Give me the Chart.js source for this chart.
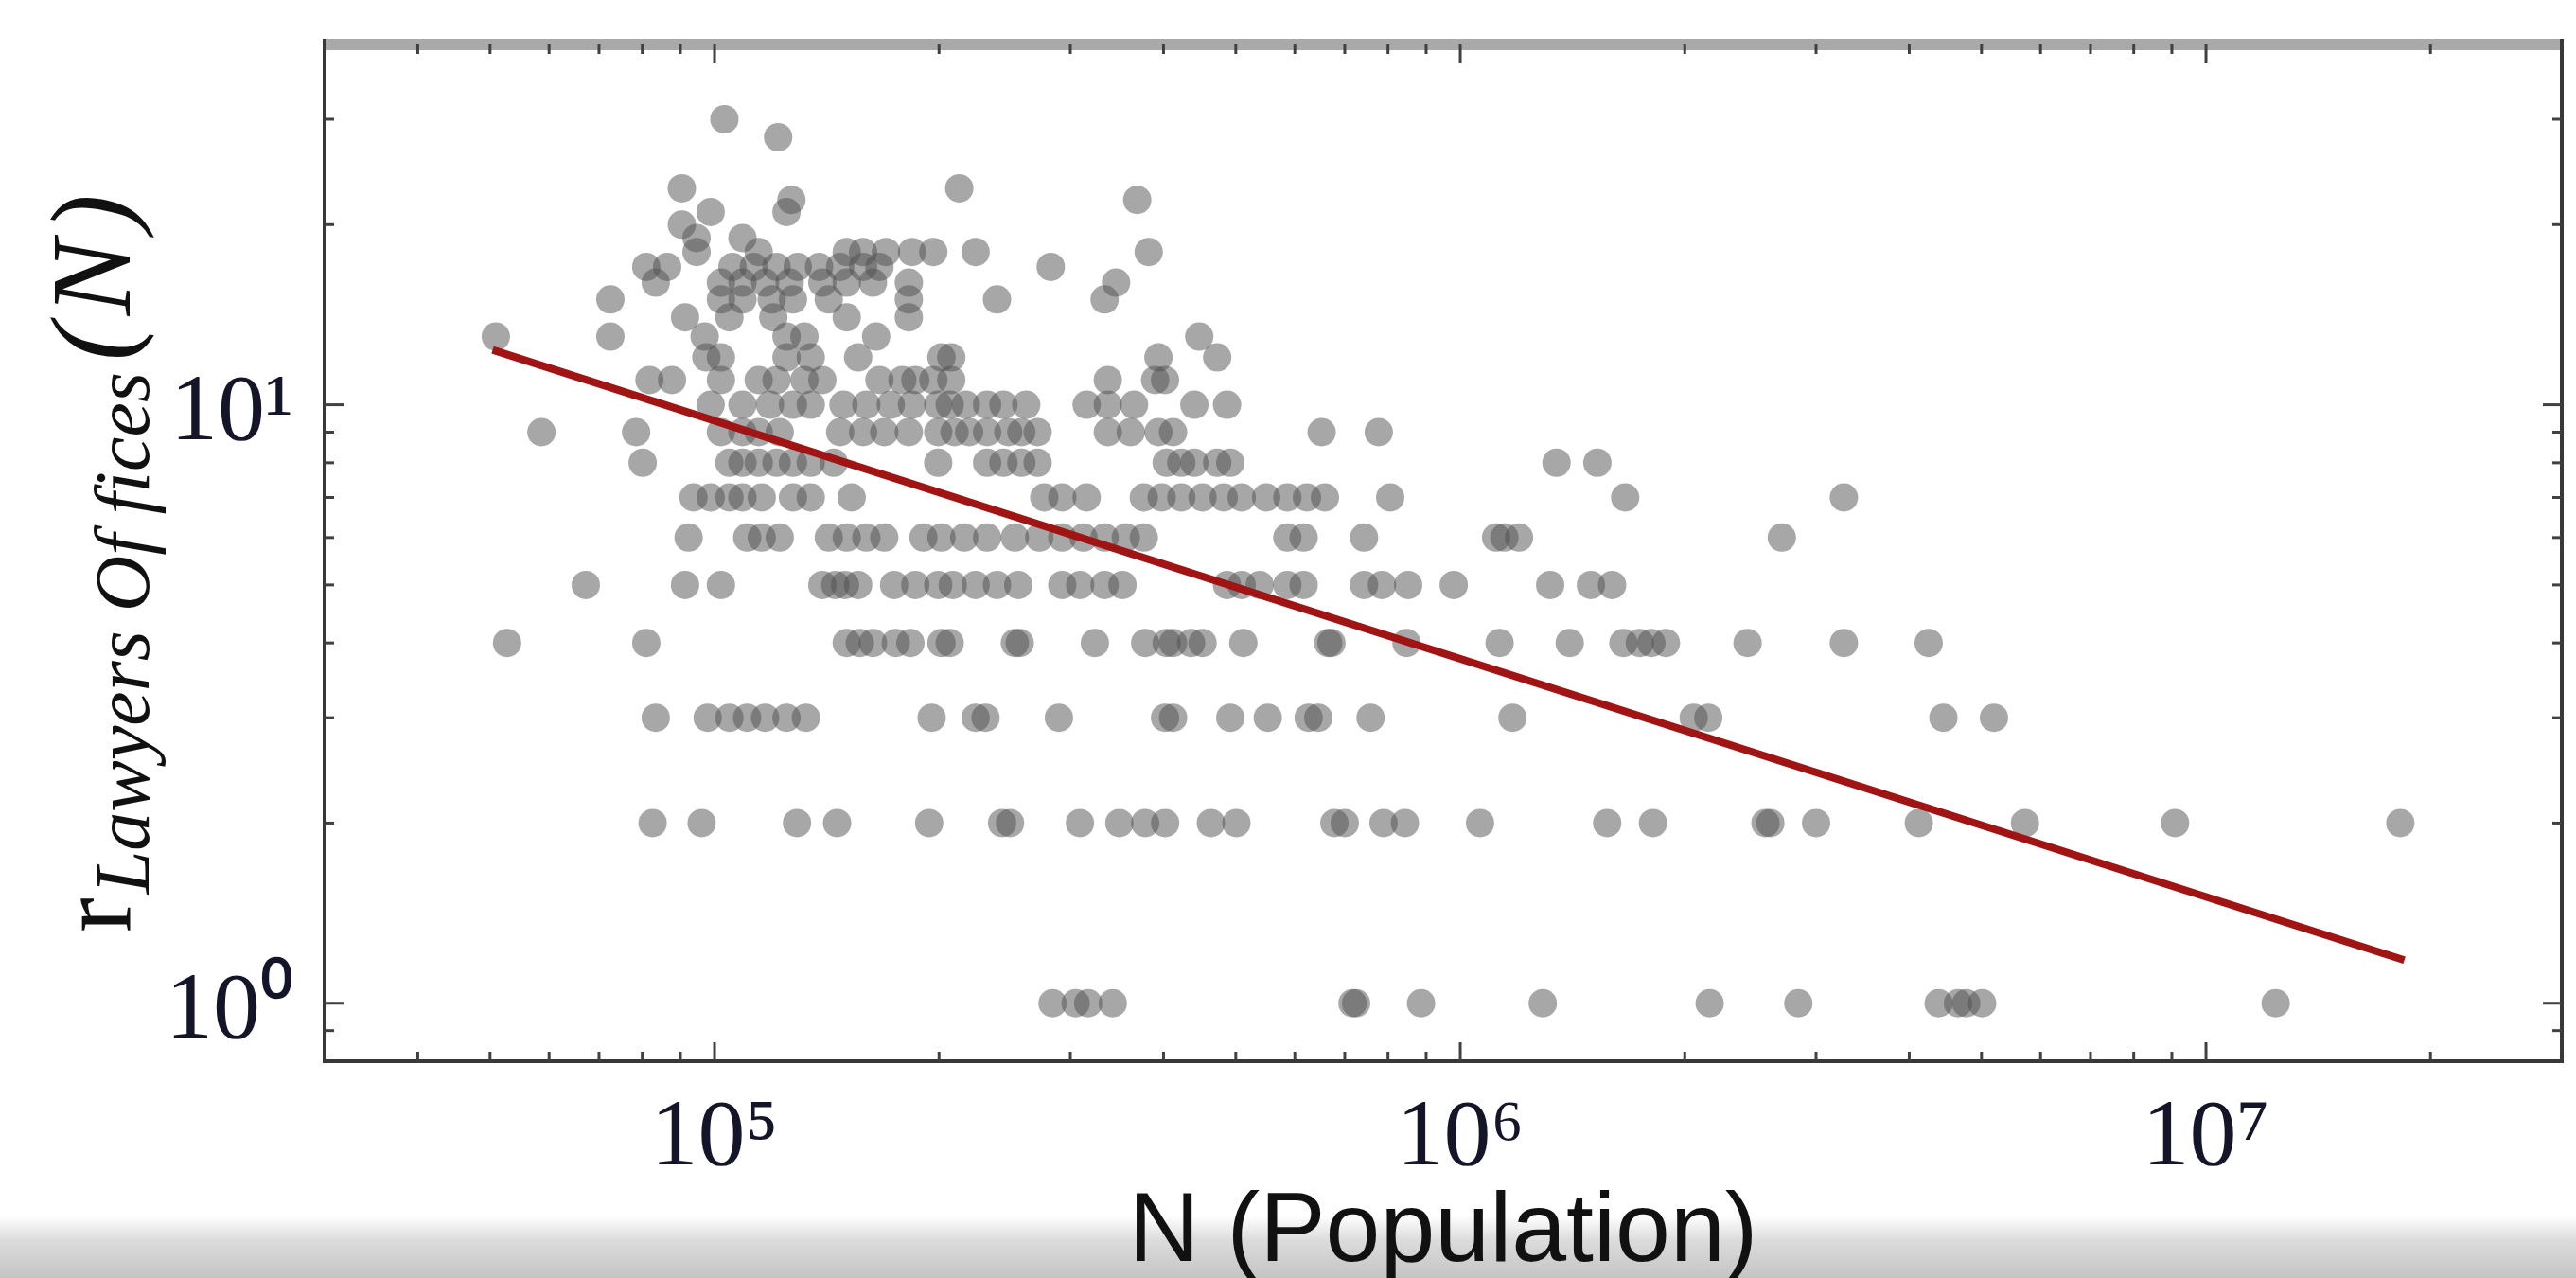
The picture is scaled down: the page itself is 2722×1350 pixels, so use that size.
<!DOCTYPE html>
<html>
<head>
<meta charset="utf-8">
<title>Lawyers offices vs population</title>
<script src="https://cdn.jsdelivr.net/npm/chart.js@4.4.1/dist/chart.umd.min.js"></script>
<style>
  html, body { margin: 0; padding: 0; background: #fff; }
  /* grey strip at the bottom of the original screenshot */
  #wrap {
    position: relative; width: 2722px; height: 1350px;
    background: linear-gradient(to bottom, #ffffff 0px, #ffffff 1284px, #dcdcdc 1310px, #c4c4c4 1350px);
  }
  canvas { display: block; }
</style>
</head>
<body>
<div id="wrap"><canvas id="chart" width="2722" height="1350"></canvas></div>
<script>
// Population N of each city, grouped by its number of lawyers' offices (r)
const r1 = [284000, 305000, 317000, 342000, 717000, 725000, 886000, 1290000, 2160000, 2840000, 4380000, 4650000, 4770000, 5010000, 12400000];
const r2 = [82600, 96100, 129000, 146000, 194000, 243000, 249000, 309000, 349000, 378000, 402000, 463000, 501000, 678000, 700000, 789000, 843000, 1063000, 1574000, 1813000, 2566000, 2605000, 3000000, 4120000, 5718000, 9089000, 18220000];
const r3 = [83400, 97900, 104700, 110600, 116900, 124900, 132600, 195500, 223900, 230900, 289600, 401900, 412000, 491600, 551900, 626100, 645100, 758100, 1175000, 2056000, 2151000, 4445000, 5196000];
const r4 = [52700, 81000, 150400, 156600, 163100, 175000, 183100, 201500, 206700, 252800, 256600, 323600, 378000, 403900, 412000, 435600, 451200, 511800, 665100, 671800, 847100, 1129000, 1402000, 1655000, 1741000, 1804000, 1887000, 2428000, 3269000, 4247000];
const r5 = [67200, 91300, 102000, 139500, 145200, 149600, 155800, 174100, 185900, 199500, 208700, 223900, 239200, 255400, 292600, 309200, 333500, 352400, 486700, 509200, 538300, 586300, 616600, 743000, 785300, 851400, 980000, 1320000, 1497000, 1598000];
const r6 = [92300, 110600, 115700, 122300, 142300, 150400, 159800, 168900, 190600, 201500, 216200, 232000, 252800, 272600, 292600, 312400, 333500, 356100, 376400, 586300, 616600, 743000, 1117000, 1146000, 1199000, 2699000];
const r7 = [93700, 98800, 104700, 109000, 115700, 127400, 134600, 152700, 276800, 292600, 315500, 376400, 397800, 422600, 451200, 481700, 509200, 549200, 586300, 622900, 658400, 805500, 1664000, 3269000];
const r8 = [80100, 104700, 109000, 114600, 121100, 127400, 134600, 144500, 199500, 232000, 244000, 257900, 271200, 403900, 422600, 440000, 472100, 491600, 1346000, 1527000];
const r9 = [58600, 78500, 102000, 109000, 114600, 122300, 147400, 158200, 168900, 182200, 199500, 209800, 219500, 232000, 247700, 257900, 271200, 336800, 361500, 393800, 412000, 651800, 777500];
const r10 = [98800, 109000, 118700, 127400, 134600, 148900, 159800, 172300, 184000, 199500, 206700, 217300, 232000, 244000, 261800, 315500, 336800, 365200, 440000, 486700];
const r11 = [81800, 87700, 102000, 114600, 121100, 132000, 139500, 166400, 178600, 185900, 196500, 207700, 336800, 389800, 401900];
const r12 = [97500, 102000, 124900, 134600, 155800, 201500, 207700, 393800, 472100];
const r13 = [50900, 72500, 97000, 124900, 132000, 164700, 446700];
const r14 = [91300, 104700, 119900, 150400, 182200];
const r15 = [72500, 102000, 109000, 119300, 127400, 142300, 182200, 239200, 333500];
const r16 = [83400, 102000, 109000, 116900, 126100, 139500, 150400, 163100, 182200, 345500];
const r17 = [81000, 86400, 105700, 112900, 121100, 129300, 138100, 147400, 158200, 166400, 282400];
const r18 = [94600, 114600, 150400, 158200, 169800, 184000, 196500, 223900, 382100];
const r19 = [94600, 109000];
const r20 = [90400];
const r21 = [98800, 124900];
const r22 = [126800, 368800];
const r23 = [90400, 212900];
const r28 = [121700];
const r30 = [103100];

const officeCounts = [1, 2, 3, 4, 5, 6, 7, 8, 9, 10, 11, 12, 13, 14, 15, 16, 17, 18, 19, 20, 21, 22, 23, 28, 30];
const populations = [r1, r2, r3, r4, r5, r6, r7, r8, r9, r10, r11, r12, r13, r14, r15, r16, r17, r18, r19, r20, r21, r22, r23, r28, r30];

// power-law fit, drawn between its two end points
const fitN = [50400, 18450000];
const fitR = [12.35, 1.18];

// axis ticks
const xTickValues = [1e5, 1e6, 1e7];
const xTickLabels = ['10⁵', '10⁶', '10⁷'];
const xMinorTicks = [4e4, 5e4, 6e4, 7e4, 8e4, 9e4, 2e5, 3e5, 4e5, 5e5, 6e5, 7e5, 8e5, 9e5,
                     2e6, 3e6, 4e6, 5e6, 6e6, 7e6, 8e6, 9e6, 2e7];
const yTickValues = [1, 10];
const yTickLabels = ['10⁰', '10¹'];
const yMinorTicks = [0.9, 2, 3, 4, 5, 6, 7, 8, 9, 20, 30];

const xTitle = 'N (Population)';
const yTitleMain = 'r';
const yTitleSub = 'Lawyers Of fices';
const yTitleArg = '(N)';

// build the point list from the arrays above
const cityPoints = [];
populations.forEach((list, i) => {
    list.forEach(n => cityPoints.push({ x: n, y: officeCounts[i] }));
});
const fitPoints = fitN.map((n, i) => ({ x: n, y: fitR[i] }));

// spines and inward ticks on all four sides (matplotlib look)
const framePlugin = {
    id: 'frame',
    afterDraw(chart) {
        const { ctx, chartArea: a, scales: { x, y } } = chart;
        ctx.save();
        ctx.fillStyle = '#a9a9a9';
        ctx.fillRect(a.left - 2, a.top - 6, a.right - a.left + 4, 12);

        ctx.strokeStyle = '#383838';
        ctx.lineWidth = 4;
        ctx.beginPath();
        ctx.moveTo(a.left, a.top - 6);
        ctx.lineTo(a.left, a.bottom);
        ctx.lineTo(a.right, a.bottom);
        ctx.lineTo(a.right, a.top - 6);
        ctx.stroke();

        ctx.lineWidth = 3;
        ctx.strokeStyle = '#404040';
        const tick = (x1, y1, x2, y2) => {
            ctx.beginPath();
            ctx.moveTo(x1, y1);
            ctx.lineTo(x2, y2);
            ctx.stroke();
        };
        [[xTickValues, 20], [xMinorTicks, 10]].forEach(([vals, len]) => vals.forEach(v => {
            const px = x.getPixelForValue(v);
            tick(px, a.bottom, px, a.bottom - len);
            tick(px, a.top, px, a.top + len);
        }));
        [[yTickValues, 20], [yMinorTicks, 10]].forEach(([vals, len]) => vals.forEach(v => {
            const py = y.getPixelForValue(v);
            tick(a.left, py, a.left + len, py);
            tick(a.right, py, a.right - len, py);
        }));
        ctx.restore();
    }
};

// y title with a subscript, written bottom to top
const yTitlePlugin = {
    id: 'yTitle',
    afterDraw(chart) {
        const c = chart.ctx;
        c.save();
        c.translate(137, 985);
        c.rotate(-Math.PI / 2);
        c.fillStyle = '#111';
        c.textAlign = 'left';
        c.textBaseline = 'alphabetic';
        let pos = 0;
        c.font = '110px "Liberation Serif"';
        c.fillText(yTitleMain, pos, 0);
        pos += c.measureText(yTitleMain).width + 4;
        c.font = 'italic 82px "Liberation Serif"';
        c.fillText(yTitleSub, pos, 20);
        pos += c.measureText(yTitleSub).width + 12;
        c.font = 'italic 120px "Liberation Serif"';
        c.letterSpacing = '8px';
        c.fillText(yTitleArg, pos, 0);
        c.restore();
    }
};

const ctx = document.getElementById('chart').getContext('2d');
new Chart(ctx, {
    type: 'scatter',
    data: {
        datasets: [
            {
                type: 'line',
                data: fitPoints,
                borderColor: '#a01414',
                borderWidth: 8,
                pointRadius: 0,
                fill: false,
                order: 0
            },
            {
                type: 'scatter',
                data: cityPoints,
                pointRadius: 15,
                pointHoverRadius: 15,
                backgroundColor: 'rgba(80, 80, 80, 0.5)',
                borderWidth: 0,
                order: 1
            }
        ]
    },
    options: {
        responsive: false,
        animation: false,
        devicePixelRatio: 1,
        layout: { padding: { top: 47, right: 3, left: 0, bottom: 0 } },
        plugins: { legend: { display: false }, tooltip: { enabled: false } },
        scales: {
            x: {
                type: 'logarithmic',
                position: 'bottom',
                min: 3e4,
                max: 3e7,
                bounds: 'data',
                afterBuildTicks: s => { s.ticks = xTickValues.map(v => ({ value: v })); },
                afterFit: s => { s.height = 229; s.paddingLeft = 0; s.paddingRight = 0; },
                grid: { display: false },
                border: { display: false },
                ticks: {
                    autoSkip: false,
                    maxRotation: 0,
                    padding: 15,
                    color: '#15152a',
                    font: { family: 'Liberation Serif', size: 100 },
                    callback: v => xTickLabels[xTickValues.indexOf(v)] ?? ''
                },
                title: {
                    display: true,
                    text: xTitle,
                    color: '#111',
                    font: { family: 'Liberation Sans', size: 104, lineHeight: 0.8 },
                    padding: { top: 0, bottom: 5 }
                }
            },
            y: {
                type: 'logarithmic',
                position: 'left',
                min: 0.8,
                max: 40,
                bounds: 'data',
                afterBuildTicks: s => { s.ticks = yTickValues.map(v => ({ value: v })); },
                afterFit: s => { s.width = 343; s.paddingTop = 0; s.paddingBottom = 0; },
                grid: { display: false },
                border: { display: false },
                ticks: {
                    autoSkip: false,
                    padding: 25,
                    labelOffset: 10,
                    color: '#15152a',
                    font: { family: 'Liberation Serif', size: 100 },
                    callback: v => yTickLabels[yTickValues.indexOf(v)] ?? ''
                }
            }
        }
    },
    plugins: [framePlugin, yTitlePlugin]
});
</script>
</body>
</html>
